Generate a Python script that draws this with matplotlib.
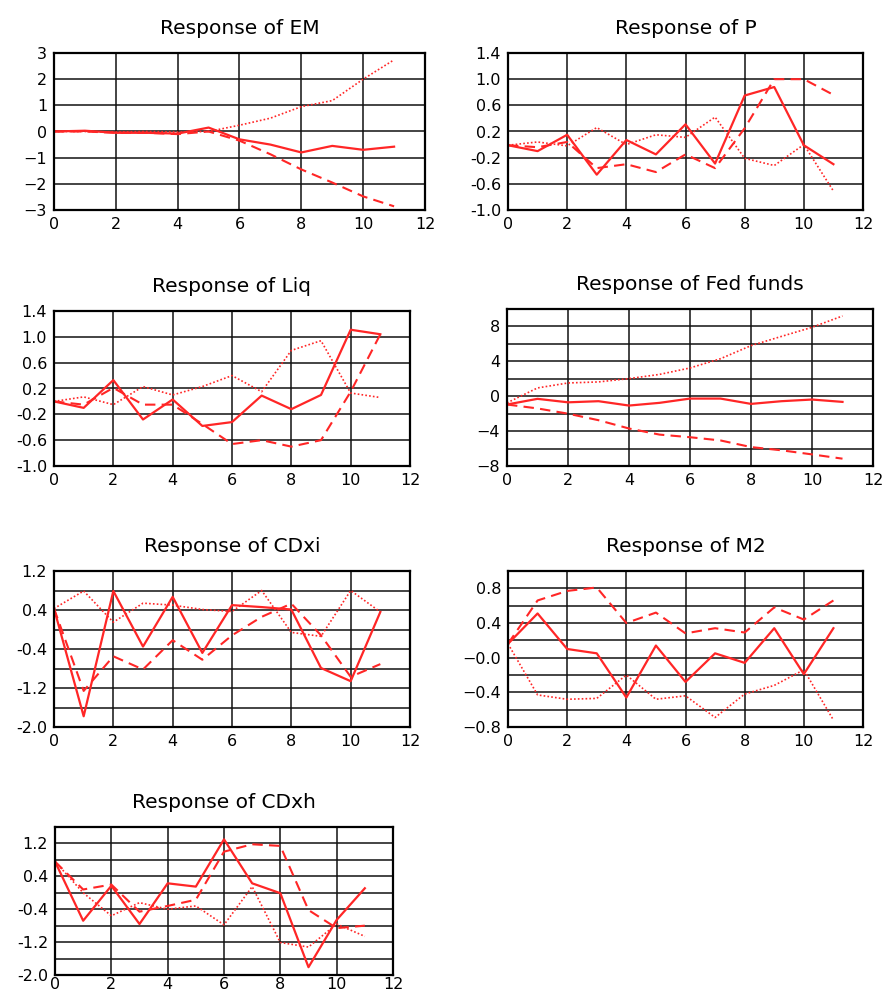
import matplotlib
matplotlib.use('Agg')
import matplotlib.pyplot as plt
from matplotlib.ticker import FixedLocator

plt.rcParams['font.family'] = ['DejaVu Sans']

steps = list(range(12))

# point estimate (solid), lower/other band (dashed), band (dotted)
em_mid = [0, 0.03, -0.05, -0.05, -0.08, 0.15, -0.3, -0.5, -0.8, -0.55, -0.7, -0.58]
em_dash = [0, 0, -0.05, -0.05, -0.1, 0.0, -0.35, -0.87, -1.45, -1.95, -2.48, -2.86]
em_dot = [0, 0, -0.02, 0, -0.02, 0, 0.24, 0.51, 0.95, 1.18, 2.0, 2.74]

p_mid = [-0.01, -0.1, 0.15, -0.46, 0.07, -0.15, 0.31, -0.29, 0.75, 0.88, -0.01, -0.3]
p_dash = [-0.01, -0.04, 0.04, -0.36, -0.3, -0.42, -0.15, -0.36, 0.25, 1.0, 1.0, 0.76]
p_dot = [-0.01, 0.04, -0.02, 0.26, 0.0, 0.15, 0.11, 0.42, -0.21, -0.32, 0.0, -0.71]

liq_mid = [0, -0.1, 0.33, -0.28, 0.03, -0.38, -0.32, 0.09, -0.12, 0.1, 1.11, 1.04]
liq_dash = [0, -0.05, 0.21, -0.05, -0.05, -0.35, -0.66, -0.6, -0.7, -0.6, 0.15, 1.04]
liq_dot = [0, 0.07, -0.05, 0.23, 0.1, 0.23, 0.4, 0.15, 0.79, 0.94, 0.13, 0.06]

fed_mid = [-0.95, -0.3, -0.7, -0.57, -1.07, -0.76, -0.27, -0.27, -0.88, -0.57, -0.38, -0.65]
fed_dash = [-0.95, -1.4, -2.0, -2.75, -3.7, -4.4, -4.7, -5.07, -5.83, -6.2, -6.67, -7.16]
fed_dot = [-0.76, 0.95, 1.52, 1.64, 2.02, 2.5, 3.24, 4.3, 5.8, 6.86, 7.9, 9.2]

cdxi_mid = [0.43, -1.78, 0.79, -0.35, 0.67, -0.48, 0.5, 0.46, 0.41, -0.79, -1.06, 0.36]
cdxi_dash = [0.43, -1.26, -0.55, -0.82, -0.22, -0.62, -0.12, 0.26, 0.53, -0.12, -0.97, -0.71]
cdxi_dot = [0.43, 0.79, 0.15, 0.54, 0.5, 0.41, 0.37, 0.8, -0.06, -0.14, 0.8, 0.36]

m2_mid = [0.16, 0.51, 0.1, 0.05, -0.46, 0.14, -0.28, 0.05, -0.06, 0.34, -0.19, 0.34]
m2_dash = [0.16, 0.66, 0.77, 0.81, 0.4, 0.52, 0.28, 0.34, 0.29, 0.58, 0.44, 0.66]
m2_dot = [0.16, -0.43, -0.48, -0.47, -0.2, -0.48, -0.44, -0.69, -0.42, -0.32, -0.14, -0.72]

cdxh_mid = [0.76, -0.68, 0.17, -0.76, 0.23, 0.15, 1.3, 0.23, -0.01, -1.81, -0.66, 0.11]
cdxh_dash = [0.76, 0.08, 0.2, -0.46, -0.32, -0.17, 1.0, 1.18, 1.14, -0.42, -0.86, -0.8]
cdxh_dot = [0.76, 0.0, -0.56, -0.24, -0.4, -0.32, -0.78, 0.15, -1.21, -1.32, -0.76, -1.06]

titles = ['Response of EM', 'Response of P', 'Response of Liq', 'Response of Fed funds',
          'Response of CDxi', 'Response of M2', 'Response of CDxh']
series = [(em_mid, em_dash, em_dot), (p_mid, p_dash, p_dot), (liq_mid, liq_dash, liq_dot),
          (fed_mid, fed_dash, fed_dot), (cdxi_mid, cdxi_dash, cdxi_dot),
          (m2_mid, m2_dash, m2_dot), (cdxh_mid, cdxh_dash, cdxh_dot)]

ylims = [(-3, 3), (-1.0, 1.4), (-1.0, 1.4), (-8, 10), (-2.0, 1.2), (-0.8, 1.0), (-2.0, 1.6)]
ytick_vals = [[-3, -2, -1, 0, 1, 2, 3],
              [-1.0, -0.6, -0.2, 0.2, 0.6, 1.0, 1.4],
              [-1.0, -0.6, -0.2, 0.2, 0.6, 1.0, 1.4],
              [-8, -4, 0, 4, 8],
              [-2.0, -1.2, -0.4, 0.4, 1.2],
              [-0.8, -0.4, 0.0, 0.4, 0.8],
              [-2.0, -1.2, -0.4, 0.4, 1.2]]
ytick_text = [['\u22123', '\u22122', '\u22121', '0', '1', '2', '3'],
              ['-1.0', '-0.6', '-0.2', '0.2', '0.6', '1.0', '1.4'],
              ['-1.0', '-0.6', '-0.2', '0.2', '0.6', '1.0', '1.4'],
              ['\u22128', '\u22124', '0', '4', '8'],
              ['-2.0', '-1.2', '-0.4', '0.4', '1.2'],
              ['\u22120.8', '\u22120.4', '\u22120.0', '0.4', '0.8'],
              ['-2.0', '-1.2', '-0.4', '0.4', '1.2']]
grid_step = [1, 0.4, 0.4, 2, 0.4, 0.2, 0.4]
xtick_vals = [0, 2, 4, 6, 8, 10, 12]

# axes boxes in pixels: left, right, top, bottom
boxes = [(54, 425, 53, 210), (508, 863, 53, 210),
         (54, 410, 311, 466), (507, 873, 309, 466),
         (54, 410, 571, 727), (508, 863, 571, 727),
         (55, 393, 827, 975)]

W, H = 885, 996
fig = plt.figure(figsize=(W / 100, H / 100), dpi=100)
red = '#ff2626'

for i in range(7):
    l, r, t, b = boxes[i]
    ax = fig.add_axes([l / W, 1 - b / H, (r - l) / W, (b - t) / H])
    mid, dash, dot = series[i]
    ax.plot(steps, mid, color=red, lw=1.6)
    ax.plot(steps, dash, color=red, lw=1.5, linestyle=(0, (5, 3)))
    ax.plot(steps, dot, color=red, lw=1.2, linestyle=(0, (1, 1.3)))
    ax.set_xlim(0, 12)
    ax.set_ylim(*ylims[i])
    ax.set_xticks(xtick_vals)
    ax.set_xticklabels([str(v) for v in xtick_vals])
    ax.set_yticks(ytick_vals[i])
    ax.set_yticklabels(ytick_text[i])
    lo, hi = ylims[i]
    n = int(round((hi - lo) / grid_step[i]))
    ax.yaxis.set_minor_locator(FixedLocator([lo + k * grid_step[i] for k in range(n + 1)]))
    ax.grid(True, which='both', color='#111111', lw=1.1)
    ax.set_axisbelow(True)
    ax.tick_params(which='both', length=0, labelsize=11.5, pad=5)
    if i == 6:
        ax.tick_params(axis='x', pad=1.5)
    for s in ax.spines.values():
        s.set_linewidth(1.6)
    ax.set_title(titles[i], fontsize=14.5, pad=14)

fig.savefig('out.png', dpi=100)
